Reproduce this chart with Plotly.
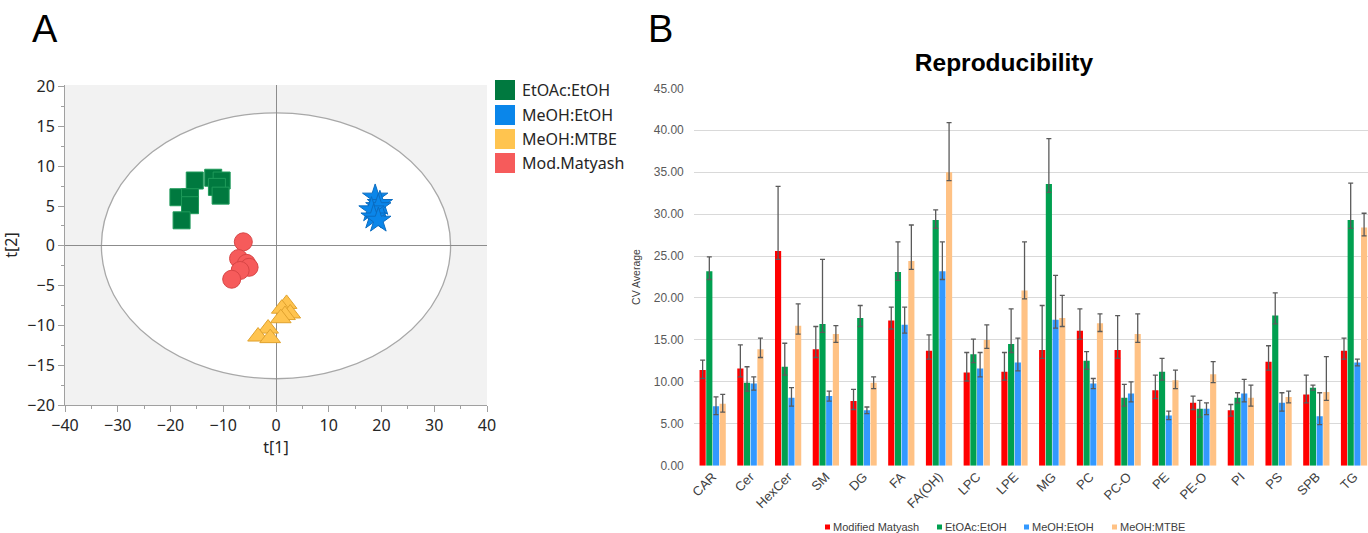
import plotly.graph_objects as go

# ---------------- Panel A data (scores plot) ----------------
etoac_x = [-15.4, -11.9, -10.3, -11.2, -10.5, -18.5, -16.3, -16.3, -17.9]
etoac_y = [8.2, 8.55, 8.2, 7.4, 6.3, 6.1, 6.1, 5.1, 3.2]
meoh_etoh_x = [18.8, 19.7, 19.4, 18.1, 18.5, 19.4]
meoh_etoh_y = [6.1, 5.3, 4.9, 4.5, 3.6, 3.2]
meoh_mtbe_x = [2.0, 1.1, 2.7, 1.7, 0.9, -1.5, -3.4, -1.1]
meoh_mtbe_y = [-7.3, -7.9, -8.5, -8.7, -9.1, -10.4, -11.4, -11.6]
matyash_x = [-6.2, -7.1, -5.6, -5.1, -6.8, -8.4]
matyash_y = [0.5, -1.6, -2.2, -2.7, -3.1, -4.2]
ellipse_a = 33.1
ellipse_b = 16.7
legend_a_labels = ["EtOAc:EtOH", "MeOH:EtOH", "MeOH:MTBE", "Mod.Matyash"]

# ---------------- Panel B data (reproducibility) ----------------
categories = ["CAR", "Cer", "HexCer", "SM", "DG", "FA", "FA(OH)", "LPC", "LPE",
              "MG", "PC", "PC-O", "PE", "PE-O", "PI", "PS", "SPB", "TG"]
mod_matyash = [11.4, 11.6, 25.6, 13.9, 7.7, 17.3, 13.7, 11.1, 11.2, 13.8, 16.1, 13.8, 9.0, 7.5, 6.6, 12.4, 8.5, 13.7]
mod_matyash_err = [1.2, 2.8, 7.7, 2.7, 1.4, 1.6, 1.9, 2.4, 2.3, 5.3, 2.6, 4.1, 1.8, 0.8, 0.7, 1.9, 2.3, 1.5]
mod_matyash_lo = [1.0, 1.0, 1.0, 1.0, 1.0, 1.0, 1.0, 1.0, 1.0, 1.0, 1.0, 1.0, 1.0, 0.8, 0.7, 1.0, 1.0, 1.0]
etoac_etoh = [23.2, 9.9, 11.8, 16.9, 17.6, 23.1, 29.3, 13.3, 14.5, 33.6, 12.5, 8.1, 11.2, 6.8, 8.1, 17.9, 9.3, 29.3]
etoac_etoh_err = [1.7, 1.9, 2.8, 7.7, 1.5, 3.6, 1.2, 1.8, 4.2, 5.4, 1.1, 1.6, 1.6, 1.0, 0.6, 2.7, 0.3, 4.4]
etoac_etoh_lo = [1.0, 1.0, 1.0, 1.0, 1.0, 1.0, 1.0, 1.0, 1.0, 1.0, 1.0, 1.0, 1.0, 1.0, 0.6, 1.0, 0.3, 1.0]
meoh_etoh = [7.1, 9.8, 8.1, 8.3, 6.6, 16.8, 23.2, 11.6, 12.3, 17.4, 9.8, 8.6, 6.0, 6.8, 8.6, 7.5, 5.9, 12.3]
meoh_etoh_err = [1.1, 0.8, 1.2, 0.6, 0.4, 2.1, 3.5, 1.9, 2.9, 5.3, 0.6, 1.4, 0.5, 0.7, 1.7, 1.2, 2.8, 0.4]
meoh_etoh_lo = [1.0, 0.8, 1.0, 0.6, 0.4, 1.0, 1.0, 1.0, 1.0, 1.0, 0.6, 1.0, 0.5, 0.7, 1.0, 1.0, 1.0, 0.4]
meoh_mtbe = [7.4, 13.9, 16.7, 15.7, 9.9, 24.4, 35.0, 15.0, 20.9, 17.6, 17.0, 15.7, 10.2, 10.9, 8.1, 8.2, 8.8, 28.4]
meoh_mtbe_err = [1.1, 1.3, 2.6, 1.0, 0.7, 4.3, 5.9, 1.8, 5.8, 2.7, 1.1, 2.4, 1.2, 1.5, 1.5, 0.7, 4.2, 1.7]
meoh_mtbe_lo = [1.0, 1.0, 1.0, 1.0, 0.7, 1.0, 1.0, 1.0, 1.0, 1.0, 1.0, 1.0, 1.0, 1.0, 1.0, 0.7, 1.0, 1.0]
bar_series = ["Modified Matyash", "EtOAc:EtOH", "MeOH:EtOH", "MeOH:MTBE"]

W, H = 1368, 533
def fx(px):
    return px / W
def fy(py):
    return 1 - py / H

FA = "Noto Sans"
FB = "Liberation Sans"

fig = go.Figure()

# ---------------- Panel A traces ----------------
colA = ["#00793F", "#0A86EA", "#FFC44F", "#F65B5B"]
fig.add_trace(go.Scatter(x=etoac_x, y=etoac_y, mode="markers", xaxis="x", yaxis="y",
                         marker=dict(symbol="square", size=17, color=colA[0],
                                     line=dict(color="#1E9A5A", width=1)),
                         showlegend=False, name=legend_a_labels[0]))
fig.add_trace(go.Scatter(x=meoh_etoh_x, y=meoh_etoh_y, mode="markers", xaxis="x", yaxis="y",
                         marker=dict(symbol="star", size=19, color=colA[1],
                                     line=dict(color="#0B6CC0", width=1)),
                         showlegend=False, name=legend_a_labels[1]))
fig.add_trace(go.Scatter(x=meoh_mtbe_x, y=meoh_mtbe_y, mode="markers", xaxis="x", yaxis="y",
                         marker=dict(symbol="triangle-up", size=18, color=colA[2],
                                     line=dict(color="#E0A22E", width=1)),
                         showlegend=False, name=legend_a_labels[2]))
fig.add_trace(go.Scatter(x=matyash_x, y=matyash_y, mode="markers", xaxis="x", yaxis="y",
                         marker=dict(symbol="circle", size=18, color=colA[3],
                                     line=dict(color="#D84545", width=1)),
                         showlegend=False, name=legend_a_labels[3]))

# ---------------- Panel B traces ----------------
colB = ["#FF0000", "#00A050", "#3399FF", "#FFC285"]
vals = [mod_matyash, etoac_etoh, meoh_etoh, meoh_mtbe]
errs = [mod_matyash_err, etoac_etoh_err, meoh_etoh_err, meoh_mtbe_err]
los = [mod_matyash_lo, etoac_etoh_lo, meoh_etoh_lo, meoh_mtbe_lo]
for name, v, e, lo, c in zip(bar_series, vals, errs, los, colB):
    fig.add_trace(go.Bar(x=categories, y=v, name=name, marker=dict(color=c, line=dict(width=0)),
                         xaxis="x2", yaxis="y2", showlegend=False,
                         error_y=dict(type="data", array=e, arrayminus=lo, visible=True,
                                      color="#5A5A5A", thickness=1.3, width=2.5)))

shapes = [
    dict(type="rect", xref="x domain", yref="y domain", x0=0, x1=1, y0=0, y1=1,
         fillcolor="#F2F2F2", line=dict(width=0), layer="below"),
    dict(type="circle", xref="x", yref="y", x0=-ellipse_a, x1=ellipse_a,
         y0=-ellipse_b, y1=ellipse_b, fillcolor="white",
         line=dict(color="#A8A8A8", width=1.3), layer="below"),
]
annotations = [
    dict(text="A", x=fx(45), y=fy(29), xref="paper", yref="paper", showarrow=False,
         font=dict(family=FB, size=38, color="black"), xanchor="center", yanchor="middle"),
    dict(text="B", x=fx(660), y=fy(29), xref="paper", yref="paper", showarrow=False,
         font=dict(family=FB, size=38, color="black"), xanchor="center", yanchor="middle"),
]

# legend of panel A: colored squares + labels
leg_a_rows = [90, 115, 139, 163]
for lab, c, ry in zip(legend_a_labels, colA, leg_a_rows):
    shapes.append(dict(type="rect", xref="paper", yref="paper",
                       x0=fx(495), x1=fx(515), y0=fy(ry + 10), y1=fy(ry - 10),
                       fillcolor=c, line=dict(width=0)))
    annotations.append(dict(text=lab, x=fx(520), y=fy(ry), xref="paper", yref="paper",
                            showarrow=False, xanchor="left", yanchor="middle",
                            font=dict(family=FA, size=16, color="#262626")))

# legend of panel B: small squares + labels
leg_b_x = [825, 937, 1024, 1112]
for lab, c, lx in zip(bar_series, colB, leg_b_x):
    shapes.append(dict(type="rect", xref="paper", yref="paper",
                       x0=fx(lx), x1=fx(lx + 5), y0=fy(529.5), y1=fy(524.5),
                       fillcolor=c, line=dict(width=0)))
    annotations.append(dict(text=lab, x=fx(lx + 6), y=fy(527), xref="paper", yref="paper",
                            showarrow=False, xanchor="left", yanchor="middle",
                            font=dict(family=FB, size=11, color="#404040")))

# ---------------- Layout ----------------
fig.update_layout(
    width=W, height=H,
    margin=dict(l=0, r=0, t=0, b=0, autoexpand=False),
    paper_bgcolor="white", plot_bgcolor="white",
    showlegend=False,
    barmode="group", bargap=0.29, bargroupgap=0.08,
    xaxis=dict(domain=[fx(65), fx(487)], anchor="y", range=[-40, 40], automargin=False,
               dtick=10, tick0=0, showgrid=False, showline=True, linecolor="#A0A0A0", linewidth=1,
               ticks="outside", ticklen=6, tickcolor="#A0A0A0",
               minor=dict(dtick=5, ticks="outside", ticklen=3, tickcolor="#A0A0A0", showgrid=False),
               zeroline=True, zerolinecolor="#8C8C8C", zerolinewidth=1,
               tickfont=dict(family=FA, size=16, color="#262626"),
               title=dict(text="t[1]", font=dict(family=FA, size=16, color="#262626"), standoff=6)),
    yaxis=dict(domain=[fy(405), fy(85)], anchor="x", range=[-20, 20.2], automargin=False,
               dtick=5, tick0=0, showgrid=False, showline=True, linecolor="#A0A0A0", linewidth=1,
               ticks="outside", ticklen=6, tickcolor="#A0A0A0",
               minor=dict(dtick=2.5, ticks="outside", ticklen=3, tickcolor="#A0A0A0", showgrid=False),
               zeroline=True, zerolinecolor="#8C8C8C", zerolinewidth=1,
               tickfont=dict(family=FA, size=16, color="#262626"),
               title=dict(text="t[2]", font=dict(family=FA, size=16, color="#262626"), standoff=8)),
    xaxis2=dict(domain=[fx(693.8), 1.0], anchor="y2", type="category", automargin=False,
                range=[-0.5, 17.37], showgrid=False, showline=False, ticks="",
                tickangle=-45, tickfont=dict(family=FB, size=13, color="#404040")),
    yaxis2=dict(domain=[fy(465.7), fy(88.3)], anchor="x2", range=[0, 45], automargin=False,
                dtick=5, tickformat=".2f", showgrid=True, gridcolor="#D9D9D9", gridwidth=1.2,
                zeroline=False, showline=False, ticks="", ticklabelstandoff=9,
                tickfont=dict(family=FB, size=12, color="#595959"),
                title=dict(text="CV Average", font=dict(family=FB, size=10.5, color="#404040"), standoff=11)),
    title=dict(text="<b>Reproducibility</b>", x=fx(1004), xanchor="center",
               y=fy(62), yanchor="middle", yref="paper", xref="paper",
               font=dict(family=FB, size=24.5, color="#000000")),
    shapes=shapes,
    annotations=annotations,
)

fig.write_html("out.html", config={"displayModeBar": False},
               post_script="document.body.style.margin='0px';document.body.style.overflow='hidden';")
